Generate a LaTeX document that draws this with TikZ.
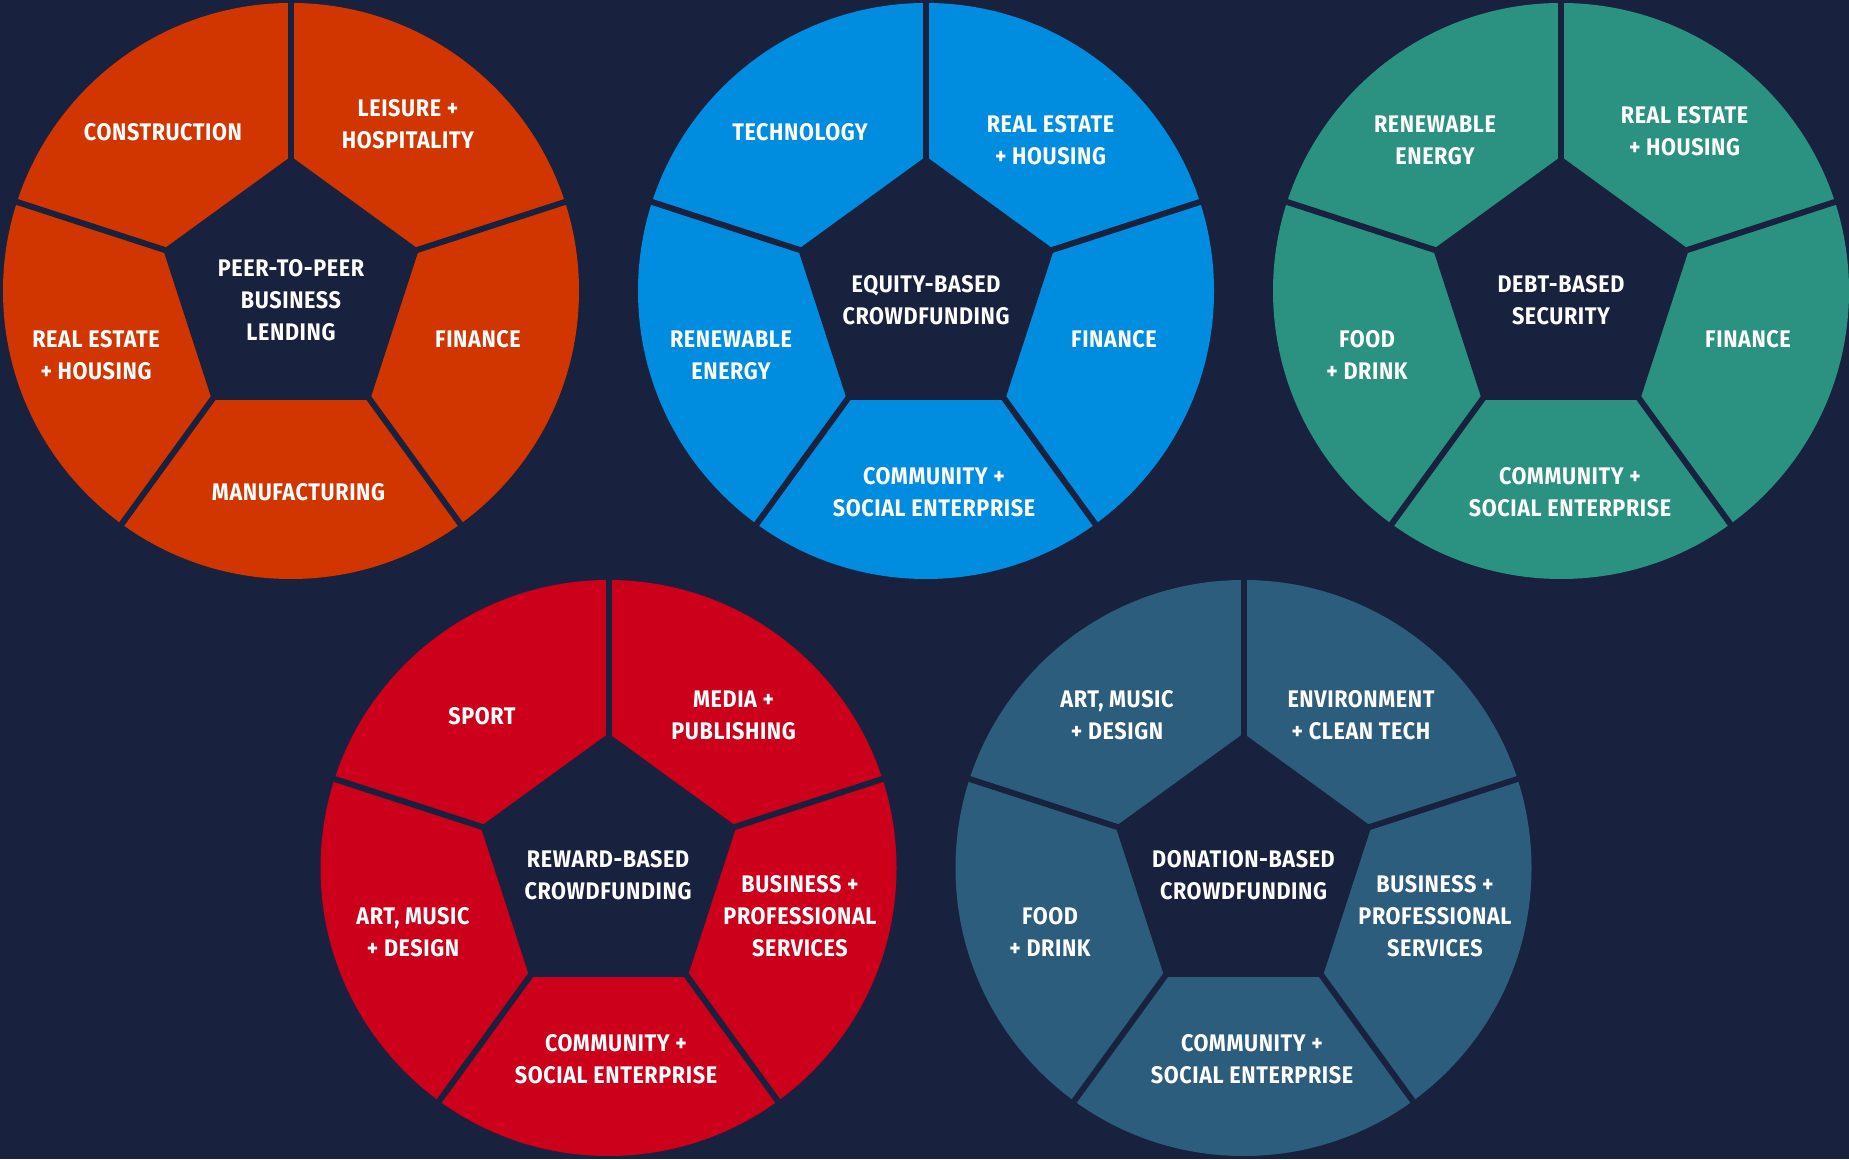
\documentclass[tikz,border=0pt]{standalone}
\usepackage{fontspec}
\setmainfont{Fira Sans}[FakeStretch=0.9,LetterSpace=2.5]
\definecolor{bg}{HTML}{18223F}
\definecolor{corange}{HTML}{D23600}
\definecolor{cblue}{HTML}{008DDF}
\definecolor{cteal}{HTML}{2B9281}
\definecolor{cred}{HTML}{CC001A}
\definecolor{cslate}{HTML}{2D5D7D}
\tikzset{
  lab/.style={text=white, align=center, inner sep=0pt, font=\bfseries\fontsize{24}{32}\selectfont},
  divider/.style={draw=bg, line width=6pt},
}
\newcommand\drawwheel[3]{%
  \begin{scope}[shift={(#1,#2)}]
    \fill[#3] (0,0) circle[radius=288];
    \fill[bg] (90:134.5) -- (162:134.5) -- (234:134.5) -- (306:134.5) -- (18:134.5) -- cycle;
    \foreach \a in {18,90,162,234,306} \draw[divider] (\a:129) -- (\a:293);
  \end{scope}}
\begin{document}
\begin{tikzpicture}[x=1pt,y=1pt]
\fill[bg] (0,0) rectangle (1849,1159);
\useasboundingbox (0,0) rectangle (1849,1159);
\drawwheel{291}{868}{corange}
\drawwheel{926}{868}{cblue}
\drawwheel{1561}{868}{cteal}
\drawwheel{608.5}{291}{cred}
\drawwheel{1243.5}{291}{cslate}
% wheel 1
\node[lab] (p2p) at (291,859) {PEER-TO-PEER\\BUSINESS\\LENDING};
\node[lab] (p2pa) at (163,1027) {CONSTRUCTION};
\node[lab] (p2pb) at (408,1035) {LEISURE +\\HOSPITALITY};
\node[lab] (p2pc) at (478,820) {FINANCE};
\node[lab] (p2pd) at (298.5,667) {MANUFACTURING};
\node[lab] (p2pe) at (96,804) {REAL ESTATE\\+ HOUSING};
% wheel 2
\node[lab] (eq) at (926,859) {EQUITY-BASED\\CROWDFUNDING};
\node[lab] (eqa) at (800,1027) {TECHNOLOGY};
\node[lab] (eqb) at (1050.5,1019) {REAL ESTATE\\+ HOUSING};
\node[lab] (eqc) at (1114,820) {FINANCE};
\node[lab] (eqd) at (934,666.5) {COMMUNITY +\\SOCIAL ENTERPRISE};
\node[lab] (eqe) at (731,804) {RENEWABLE\\ENERGY};
% wheel 3
\node[lab] (db) at (1561,859) {DEBT-BASED\\SECURITY};
\node[lab] (dba) at (1435,1019) {RENEWABLE\\ENERGY};
\node[lab] (dbb) at (1684.5,1028) {REAL ESTATE\\+ HOUSING};
\node[lab] (dbc) at (1748,820) {FINANCE};
\node[lab] (dbd) at (1570,666.5) {COMMUNITY +\\SOCIAL ENTERPRISE};
\node[lab] (dbe) at (1367,804) {FOOD\\+ DRINK};
% wheel 4
\node[lab] (rw) at (608,283.5) {REWARD-BASED\\CROWDFUNDING};
\node[lab] (rwa) at (482,443) {SPORT};
\node[lab] (rwb) at (733.6,443.5) {MEDIA +\\PUBLISHING};
\node[lab] (rwc) at (800,243) {BUSINESS +\\PROFESSIONAL\\SERVICES};
\node[lab] (rwd) at (616,99.5) {COMMUNITY +\\SOCIAL ENTERPRISE};
\node[lab] (rwe) at (413,227) {ART, MUSIC\\+ DESIGN};
% wheel 5
\node[lab] (dn) at (1243.5,283.5) {DONATION-BASED\\CROWDFUNDING};
\node[lab] (dna) at (1117,443.5) {ART, MUSIC\\+ DESIGN};
\node[lab] (dnb) at (1361,443.5) {ENVIRONMENT\\+ CLEAN TECH};
\node[lab] (dnc) at (1435,243) {BUSINESS +\\PROFESSIONAL\\SERVICES};
\node[lab] (dnd) at (1252,99.5) {COMMUNITY +\\SOCIAL ENTERPRISE};
\node[lab] (dne) at (1050,227) {FOOD\\+ DRINK};
\end{tikzpicture}
\end{document}
